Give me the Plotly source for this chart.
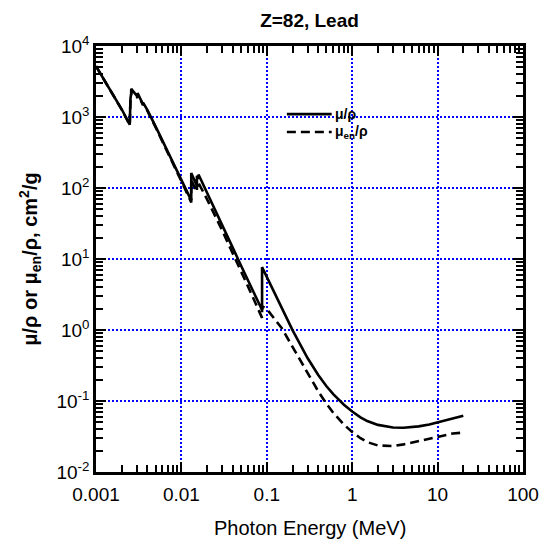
import plotly.graph_objects as go

# Photon energy (MeV), with absorption edges repeated
energy_mev = [
    1.0e-3, 1.5e-3, 2.0e-3, 2.484e-3, 2.484e-3, 2.534e-3, 2.586e-3, 2.586e-3,
    3.0e-3, 3.066e-3, 3.066e-3, 3.301e-3, 3.554e-3, 3.554e-3, 3.699e-3, 3.851e-3,
    3.851e-3, 4.0e-3, 5.0e-3, 6.0e-3, 8.0e-3, 1.0e-2, 1.3035e-2, 1.3035e-2,
    1.5e-2, 1.52e-2, 1.52e-2, 1.5527e-2, 1.5861e-2, 1.5861e-2, 2.0e-2, 3.0e-2,
    4.0e-2, 5.0e-2, 6.0e-2, 8.0e-2, 8.8e-2, 8.8e-2, 1.0e-1, 1.5e-1,
    2.0e-1, 3.0e-1, 4.0e-1, 5.0e-1, 6.0e-1, 8.0e-1, 1.0, 1.25,
    1.5, 2.0, 3.0, 4.0, 5.0, 6.0, 8.0, 10.0,
    15.0, 20.0,
]

# Mass attenuation coefficient mu/rho (cm^2/g)
mu_rho = [
    5210, 2356, 1285, 780.0, 1396, 1839, 2154, 2493,
    2003, 1898, 2181, 1805, 1507, 1597, 1465, 1338,
    1386, 1251, 730.4, 467.2, 228.7, 130.6, 67.01, 162.1,
    111.6, 107.8, 148.5, 141.6, 134.4, 154.8, 86.36, 30.32,
    14.36, 8.041, 5.021, 2.419, 1.910, 7.683, 5.549, 2.014,
    0.9985, 0.4031, 0.2323, 0.1614, 0.1248, 0.0887, 0.07102, 0.05876,
    0.05222, 0.04606, 0.04234, 0.04197, 0.04272, 0.04391, 0.04675, 0.04972,
    0.05658, 0.06206,
]

# Mass energy-absorption coefficient mu_en/rho (cm^2/g)
mu_en_rho = [
    5197, 2344, 1274, 768.3, 1365, 1794, 2102, 2424,
    1950, 1847, 2122, 1757, 1467, 1555, 1427, 1303,
    1350, 1218, 712.4, 454.6, 220.7, 124.7, 62.70, 129.1,
    91.00, 88.07, 113.1, 108.3, 103.2, 118.0, 68.99, 25.36,
    12.11, 6.740, 4.149, 1.916, 1.482, 2.160, 1.976, 1.056,
    0.5870, 0.2455, 0.1370, 0.09128, 0.06819, 0.04644, 0.03654, 0.02988,
    0.02640, 0.02360, 0.02322, 0.02449, 0.02600, 0.02744, 0.02989, 0.03181,
    0.03478, 0.03595,
]

series_names = ["<b>μ/ρ</b>", "<b>μ<sub>en</sub>/ρ</b>"]

x_range_log = [-3, 2]
y_range_log = [-2, 4]
x_tick_vals = [0.001, 0.01, 0.1, 1, 10, 100]
x_tick_text = ["0.001", "0.01", "0.1", "1", "10", "100"]
y_tick_vals = [0.01, 0.1, 1, 10, 100, 1000, 10000]
y_tick_text = ["10<sup>-2</sup>", "10<sup>-1</sup>", "10<sup>0</sup>", "10<sup>1</sup>",
               "10<sup>2</sup>", "10<sup>3</sup>", "10<sup>4</sup>"]
x_title = "Photon Energy (MeV)"
y_title = "<b>μ/ρ or μ<sub>en</sub>/ρ, cm<sup>2</sup>/g</b>"
chart_title = "<b>Z=82, Lead</b>"

FONT = "Arial, Liberation Sans, sans-serif"
DASH = "9px,5px"

fig = go.Figure()
fig.add_trace(go.Scatter(
    x=energy_mev, y=mu_rho, mode="lines", name=series_names[0],
    line=dict(color="black", width=2.6), showlegend=False,
))
fig.add_trace(go.Scatter(
    x=energy_mev, y=mu_en_rho, mode="lines", name=series_names[1],
    line=dict(color="black", width=2.6, dash=DASH), showlegend=False,
))
# empty trace so that the overlay (minor-tick) axes are created
fig.add_trace(go.Scatter(x=[], y=[], xaxis="x2", yaxis="y2", showlegend=False,
                         hoverinfo="skip", mode="lines"))

axis_common = dict(
    type="log", showline=True, linecolor="black", linewidth=2.5, mirror="ticks",
    ticks="inside", ticklen=10, tickwidth=2, tickcolor="black",
    showgrid=True, gridcolor="blue", gridwidth=1.5, griddash="2px,2px",
    zeroline=False, automargin=False,
    tickfont=dict(family=FONT, size=19, color="black"),
)
minor_common = dict(
    type="log", mirror="ticks", ticks="inside", ticklen=7,
    tickwidth=2, tickcolor="black", dtick="D1", showticklabels=False,
    showgrid=False, zeroline=False, automargin=False,
)

fig.update_layout(
    xaxis=dict(
        **axis_common, range=x_range_log, tickmode="array", tickvals=x_tick_vals,
        ticktext=x_tick_text, ticklabelstandoff=3,
    ),
    yaxis=dict(
        **axis_common, range=y_range_log, tickmode="array", tickvals=y_tick_vals,
        ticktext=y_tick_text,
        title=dict(text=y_title, font=dict(family=FONT, size=20, color="black"), standoff=14),
    ),
    xaxis2=dict(**minor_common, range=x_range_log, overlaying="x", anchor="y2", side="bottom"),
    yaxis2=dict(**minor_common, range=y_range_log, overlaying="y", anchor="x2", side="left"),
)

# x-axis title
fig.add_annotation(xref="paper", yref="paper", x=0.5, y=-0.131, xanchor="center",
                   yanchor="middle", text=x_title, showarrow=False,
                   font=dict(family=FONT, size=20, color="black"))

# Legend drawn as line samples + text (longer samples than the built-in legend)
legend_rows = [(0.840, dict(color="black", width=2.6)),
               (0.798, dict(color="black", width=2.6, dash=DASH))]
for (ly, lstyle), name in zip(legend_rows, series_names):
    fig.add_shape(type="line", xref="paper", yref="paper", x0=0.447, x1=0.552,
                  y0=ly, y1=ly, line=lstyle)
    fig.add_annotation(xref="paper", yref="paper", x=0.555, y=ly, xanchor="left",
                       yanchor="middle", text=name, showarrow=False,
                       font=dict(family=FONT, size=14, color="black"))

fig.update_layout(
    width=540, height=545,
    margin=dict(l=96, r=17, t=46, b=73),
    paper_bgcolor="white", plot_bgcolor="white",
    title=dict(text=chart_title, x=0.5, xref="paper", xanchor="center",
               y=1 - 20 / 545, yref="container", yanchor="middle",
               font=dict(family=FONT, size=19, color="black")),
    showlegend=False,
)

fig.write_html("out.html")
